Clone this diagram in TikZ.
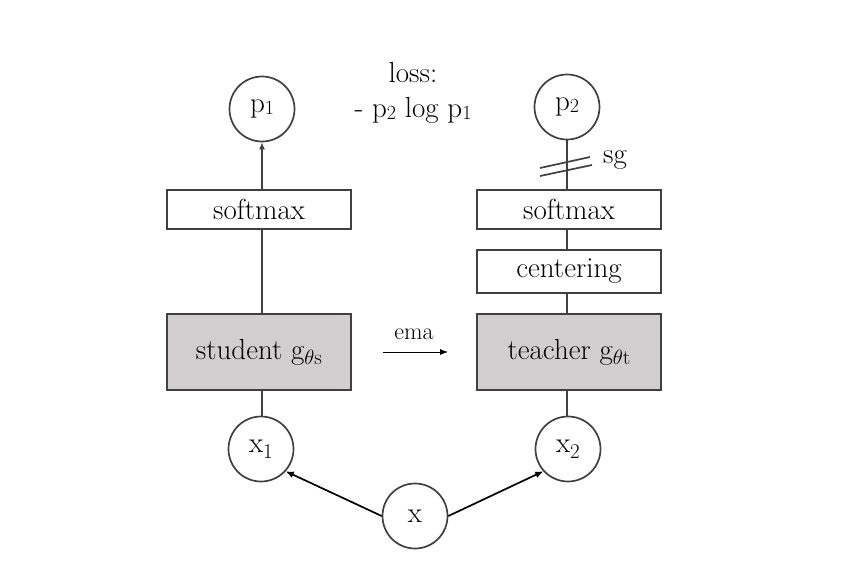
\documentclass[tikz,border=0pt]{standalone}
\usetikzlibrary{arrows.meta,calc}
\definecolor{linegray}{RGB}{64,64,64}
\definecolor{boxfill}{RGB}{208,206,206}
\newcommand{\smallsub}[1]{\raisebox{-0.12ex}{\fontsize{20}{22}\selectfont #1}}
\newcommand{\lowsub}[1]{\raisebox{-0.45ex}{\fontsize{21}{22}\selectfont #1}}
\begin{document}
\begin{tikzpicture}[x=1pt,y=-1pt,
  every node/.style={font=\fontsize{29}{33}\selectfont, text=black},
  circ/.style={circle, draw=linegray, line width=1.7pt, minimum size=65pt, inner sep=0pt},
  plainbox/.style={rectangle, draw=linegray, line width=1.7pt, minimum width=184pt, minimum height=39pt, inner sep=0pt},
  netbox/.style={rectangle, draw=linegray, fill=boxfill, line width=1.7pt, minimum width=184pt, minimum height=76pt, inner sep=0pt},
  conn/.style={draw=linegray, line width=1.7pt},
  grayarrow/.style={draw=linegray, line width=1.7pt, -{Latex[length=7pt,width=6pt]}},
  blackarrow/.style={draw=black, line width=1.7pt, -{Latex[length=8pt,width=7pt]}},
  thinarrow/.style={draw=black, line width=0.8pt, -{Latex[length=8pt,width=6pt]}}]
\useasboundingbox (0,0) rectangle (844,574);
% left column
\node[circ] (p1) at (262,109) {p\smallsub{1}};
\node[plainbox] (sm1) at (259,209.5) {softmax};
\node[netbox] (stu) at (259,352) {student g\lowsub{$\theta$s}};
\node[circ] (x1) at (261,449) {x\lowsub{1}};
% right column
\node[circ] (p2) at (567,107) {p\smallsub{2}};
\node[plainbox] (sm2) at (569,209.5) {softmax};
\node[plainbox, minimum height=43pt] (cen) at (569,271.5) {centering};
\node[netbox] (tea) at (569,352) {teacher g\lowsub{$\theta$t}};
\node[circ] (x2) at (568,449) {x\lowsub{2}};
% input
\node[circ] (x) at (415,516) {x};
% loss text
\node[align=center, inner sep=0pt] (loss) at (413,93) {loss:\\[2pt]- p\smallsub{2} log p\smallsub{1}};
% connectors
\draw[grayarrow] (p1.south |- sm1.north) -- (p1.south);
\draw[conn] (p1.south |- stu.north) -- (p1.south |- sm1.south);
\draw[conn] (p1.south |- x1.north) -- (p1.south |- stu.south);
\draw[conn] (p2.south |- sm2.north) -- (p2.south);
\draw[conn] (p2.south |- cen.north) -- (p2.south |- sm2.south);
\draw[conn] (p2.south |- tea.north) -- (p2.south |- cen.south);
\draw[conn] (p2.south |- x2.north) -- (p2.south |- tea.south);
\draw[blackarrow] (x.west) -- (x1.-42);
\draw[blackarrow] (x.east) -- (x2.222);
% ema
\coordinate (emaL) at (383,352);
\coordinate (emaR) at (448,352);
\draw[thinarrow] (emaL) -- (emaR);
\node[font=\fontsize{24}{28}\selectfont, inner sep=0pt] (ema) at (414,334) {ema};
% stop gradient marks
\coordinate (sgc) at (566,163);
\draw[conn] ($(sgc)+(-26,5)$) -- ($(sgc)+(24,-6)$);
\draw[conn] ($(sgc)+(-26,13)$) -- ($(sgc)+(26,2)$);
\node[inner sep=0pt] (sg) at (615,160) {sg};
\end{tikzpicture}
\end{document}
